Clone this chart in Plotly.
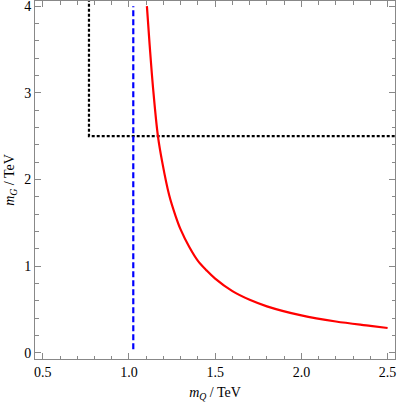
import plotly.graph_objects as go

# red curve: m_G vs m_Q
m_q = [1.104, 1.12, 1.14, 1.168, 1.193, 1.233, 1.27, 1.30, 1.35, 1.40, 1.45, 1.50, 1.60, 1.70, 1.80, 2.00, 2.20, 2.40, 2.50]
m_g = [4.00, 3.55, 3.05, 2.50, 2.20, 1.82, 1.58, 1.42, 1.22, 1.06, 0.95, 0.855, 0.71, 0.61, 0.535, 0.43, 0.36, 0.31, 0.285]

# blue dashed vertical bound
blue_x = [1.025, 1.025]
blue_y = [0.04, 4.0]

# black dotted box
box_x = [0.768, 0.768, 2.6]
box_y = [4.2, 2.5, 2.5]

fig = go.Figure()
fig.add_trace(go.Scatter(x=box_x, y=box_y, mode="lines",
                         line=dict(color="black", width=2.2, dash="3px,2px")))
fig.add_trace(go.Scatter(x=blue_x, y=blue_y, mode="lines",
                         line=dict(color="#0000ff", width=2.2, dash="6px,3px")))
fig.add_trace(go.Scatter(x=m_q, y=m_g, mode="lines", line_shape="spline",
                         line=dict(color="#ff0000", width=2.2)))

axis_style = dict(showgrid=False, zeroline=False, showline=True, linecolor="#888888",
                  linewidth=1, mirror="ticks", ticks="inside", ticklen=6, tickcolor="#888888",
                  ticklabeloverflow="allow",
                  tickfont=dict(family="Liberation Serif", size=14, color="black"))

fig.update_xaxes(range=[0.455, 2.543], dtick=0.5, tick0=0.5, tickformat=".1f",
                 minor=dict(dtick=0.1, ticks="inside", ticklen=3.5, tickcolor="#888888"),
                 title=dict(text="<i>m</i><sub><i>Q</i></sub> / TeV", standoff=8,
                            font=dict(family="Liberation Serif", size=14, color="black")),
                 automargin=False, **axis_style)
fig.update_yaxes(range=[-0.073, 4.06], dtick=1, tick0=0,
                 minor=dict(dtick=0.2, ticks="inside", ticklen=3.5, tickcolor="#888888"),
                 title=dict(text="<i>m</i><sub><i>G</i></sub> / TeV", standoff=6,
                            font=dict(family="Liberation Serif", size=14, color="black")),
                 automargin=False, **axis_style)

fig.update_layout(width=399, height=405, showlegend=False,
                  margin=dict(l=35, r=4, t=1, b=46),
                  plot_bgcolor="white", paper_bgcolor="white")

fig.write_html("out.html", config={"displayModeBar": False},
               post_script="document.body.style.margin='0px';")
